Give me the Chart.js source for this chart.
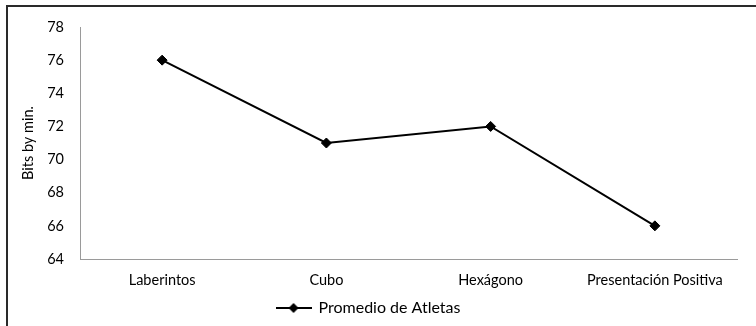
<!DOCTYPE html>
<html>
<head>
<meta charset="utf-8">
<script src="https://cdn.jsdelivr.net/npm/chart.js@4/dist/chart.umd.min.js"></script>
<style>
    html, body { margin: 0; padding: 0; background: #fff; }
    #wrap { position: relative; width: 756px; height: 326px; overflow: hidden; }
    #frame { position: absolute; left: 6px; top: 5px; width: 800px; height: 400px;
             border-top: 2px solid #2a2a2a; border-left: 2px solid #2a2a2a; }
    #c { position: absolute; left: 0; top: 0; }
</style>
</head>
<body>
<div id="wrap">
    <div id="frame"></div>
    <canvas id="c" width="756" height="326"></canvas>
</div>
<script>
var categories = ['Laberintos', 'Cubo', 'Hexágono', 'Presentación Positiva'];
var seriesName = 'Promedio de Atletas';
var seriesValues = [76, 71, 72, 66];
var yMin = 64;
var yMax = 78;
var yStep = 2;
var yTitle = 'Bits by min.';

var fontFamily = 'Lato, "Open Sans", "Noto Sans", sans-serif';

// legend marker: short line with a diamond in the middle
function makeLegendMarker() {
    var cv = document.createElement('canvas');
    cv.width = 36;
    cv.height = 12;
    var g = cv.getContext('2d');
    g.strokeStyle = '#000';
    g.lineWidth = 2;
    g.beginPath();
    g.moveTo(0, 6);
    g.lineTo(36, 6);
    g.stroke();
    g.fillStyle = '#000';
    g.beginPath();
    g.moveTo(18, 1);
    g.lineTo(23, 6);
    g.lineTo(18, 11);
    g.lineTo(13, 6);
    g.closePath();
    g.fill();
    return cv;
}

var ctx = document.getElementById('c').getContext('2d');
var chart = new Chart(ctx, {
    type: 'line',
    data: {
        labels: categories,
        datasets: [{
            label: seriesName,
            data: seriesValues,
            borderColor: '#000',
            backgroundColor: '#000',
            borderWidth: 2,
            pointStyle: 'rectRot',
            pointRadius: 5,
            pointBorderWidth: 1,
            tension: 0
        }]
    },
    options: {
        responsive: false,
        animation: false,
        devicePixelRatio: 1,
        layout: { padding: { left: 0, right: 19, top: 27, bottom: 0 } },
        plugins: {
            legend: {
                position: 'bottom',
                labels: {
                    usePointStyle: true,
                    pointStyle: makeLegendMarker(),
                    pointStyleWidth: 34,
                    color: '#000',
                    padding: 8,
                    font: { family: fontFamily, size: 16 }
                }
            },
            tooltip: { enabled: false }
        },
        scales: {
            x: {
                offset: true,
                grid: { display: false },
                border: { display: true, color: '#9a9a9a', width: 1 },
                ticks: {
                    color: '#000',
                    padding: 5,
                    maxRotation: 0,
                    font: { family: fontFamily, size: 14.5 }
                },
                afterFit: function(scale) { scale.height = 33; }
            },
            y: {
                min: yMin,
                max: yMax,
                grid: { display: false },
                border: { display: true, color: '#9a9a9a', width: 1 },
                ticks: {
                    stepSize: yStep,
                    color: '#000',
                    padding: 8,
                    font: { family: fontFamily, size: 14.5 }
                },
                title: {
                    display: true,
                    text: yTitle,
                    color: '#000',
                    padding: { top: 20, bottom: 0 },
                    font: { family: fontFamily, size: 14.5 }
                },
                afterFit: function(scale) { scale.width = 80; }
            }
        }
    }
});
</script>
</body>
</html>
